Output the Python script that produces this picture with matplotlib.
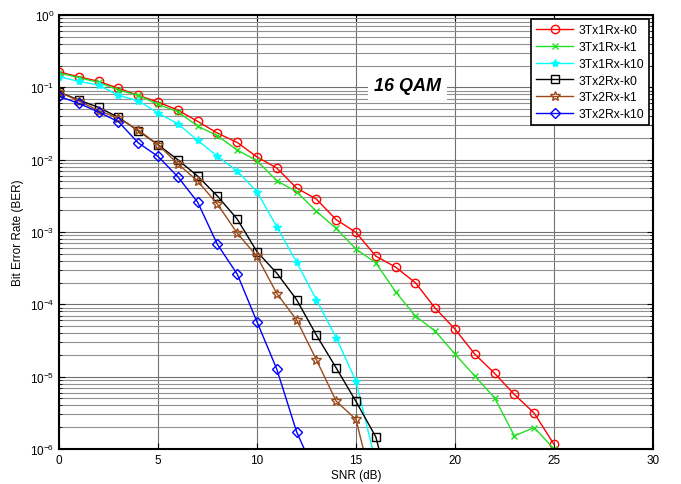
import matplotlib
matplotlib.use("Agg")
import matplotlib.pyplot as plt
from matplotlib.ticker import LogLocator, NullFormatter

snr_1rx = list(range(0, 26))
ber_1rx_k0 = [0.163, 0.140, 0.121, 0.097, 0.0775, 0.0626, 0.0485, 0.0339, 0.0233, 0.0173,
              0.0109, 0.00766, 0.00405, 0.00285, 0.00148, 0.000987, 0.000464, 0.000327,
              0.000199, 8.86e-5, 4.54e-5, 2.05e-5, 1.11e-5, 5.67e-6, 3.13e-6, 1.16e-6]
ber_1rx_k1 = [0.158, 0.136, 0.117, 0.0918, 0.0775, 0.0582, 0.046, 0.0292, 0.0214, 0.0136,
              0.00966, 0.00511, 0.0036, 0.00193, 0.00112, 0.00058, 0.000375, 0.000149,
              6.88e-5, 4.26e-5, 2.05e-5, 1.02e-5, 5.09e-6, 1.52e-6, 1.98e-6, 1.0e-6]

snr_k10 = list(range(0, 17))
ber_1rx_k10 = [0.140, 0.121, 0.1076, 0.0775, 0.0653, 0.0441, 0.0314, 0.0185, 0.0112, 0.00695,
               0.0036, 0.00118, 0.000383, 0.000116, 3.44e-5, 8.67e-6, 6.5e-7]

snr_2rx_k0 = list(range(0, 18))
ber_2rx_k0 = [0.0861, 0.0667, 0.0528, 0.0385, 0.0251, 0.0161, 0.00998, 0.00593, 0.00314,
              0.00151, 0.000533, 0.00027, 0.000116, 3.75e-5, 1.32e-5, 4.54e-6, 1.47e-6, 1.3e-7]

snr_2rx_k1 = list(range(0, 17))
ber_2rx_k1 = [0.0861, 0.065, 0.0475, 0.0376, 0.0257, 0.0161, 0.00877, 0.00506, 0.00243,
              0.000966, 0.000459, 0.000141, 6.1e-5, 1.71e-5, 4.58e-6, 2.56e-6, 2e-7]

snr_2rx_k10 = list(range(0, 14))
ber_2rx_k10 = [0.075, 0.0601, 0.0455, 0.0335, 0.0171, 0.0111, 0.0058, 0.00259, 0.000673,
               0.000262, 5.73e-5, 1.27e-5, 1.73e-6, 4.2e-7]

plt.rcParams['font.family'] = ['Liberation Sans', 'DejaVu Sans']
plt.rcParams['mathtext.fontset'] = 'custom'
plt.rcParams['mathtext.rm'] = 'Liberation Sans'

fig = plt.figure(figsize=(6.81, 4.85), dpi=100)
ax = fig.add_axes([59/681, 1 - 450/485, (653 - 59)/681, (450 - 16)/485])

brown = '#9c4a1a'
ax.semilogy(snr_1rx, ber_1rx_k0, '-o', color='red', mfc='none', ms=6, lw=1, label='3Tx1Rx-k0')
ax.semilogy(snr_1rx, ber_1rx_k1, '-x', color='#22e022', ms=4, lw=1, label='3Tx1Rx-k1')
ax.semilogy(snr_k10, ber_1rx_k10, '-*', color='cyan', ms=6, lw=1, label='3Tx1Rx-k10')
ax.semilogy(snr_2rx_k0, ber_2rx_k0, '-s', color='black', mfc='none', ms=6, lw=1, label='3Tx2Rx-k0')
ax.semilogy(snr_2rx_k1, ber_2rx_k1, '-*', color=brown, mfc='none', ms=7, lw=1, label='3Tx2Rx-k1')
ax.semilogy(snr_2rx_k10, ber_2rx_k10, '-D', color='blue', mfc='none', ms=5, lw=1, label='3Tx2Rx-k10')

ax.set_xlim(0, 30)
ax.set_ylim(1e-6, 1)
ax.set_xticks([0, 5, 10, 15, 20, 25, 30])
ax.yaxis.set_major_locator(LogLocator(base=10, numticks=10))
ax.yaxis.set_minor_locator(LogLocator(base=10, subs=range(2, 10), numticks=20))
ax.yaxis.set_minor_formatter(NullFormatter())

ax.grid(True, which='major', color='#707070', lw=0.8)
ax.grid(True, which='minor', axis='y', color='#909090', lw=0.8)
ax.set_axisbelow(True)

ax.tick_params(which='both', direction='in', top=True, right=True, labelsize=8.5)
ax.tick_params(which='major', length=4)
ax.tick_params(which='minor', length=2)
for s in ax.spines.values():
    s.set_linewidth(1.5)

ax.set_xlabel('SNR (dB)', fontsize=8.5, labelpad=2)
ax.set_ylabel('Bit Error Rate (BER)', fontsize=8.5, labelpad=4)

ax.text(17.6, 0.105, '16 QAM', fontsize=13, fontweight='bold', fontstyle='italic',
        ha='center', va='center',
        bbox=dict(facecolor='white', edgecolor='none', pad=4))

leg = ax.legend(loc='upper right', fontsize=8.7, fancybox=False, framealpha=1,
                edgecolor='black', borderaxespad=0.35, handlelength=3.1,
                handletextpad=0.4, labelspacing=0.4)
leg.get_frame().set_linewidth(1.2)

fig.savefig('out.png', dpi=100)
